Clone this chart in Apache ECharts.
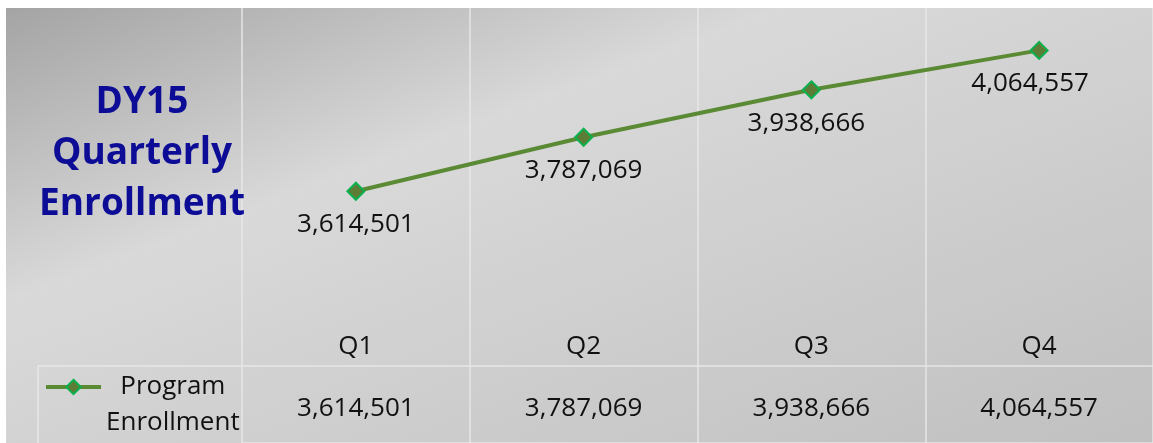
<!DOCTYPE html>
<html>
<head>
<meta charset="utf-8">
<script src="https://cdn.jsdelivr.net/npm/echarts@6/dist/echarts.min.js"></script>
<style>
html,body{margin:0;padding:0;background:#fff;}
#chart{width:1153px;height:443px;}
</style>
</head>
<body>
<div id="chart"></div>
<script>
// ---- data ----
const quarters = ['Q1', 'Q2', 'Q3', 'Q4'];
const enrollment = [3614501, 3787069, 3938666, 4064557];
const seriesName = 'Program Enrollment';
const legendLines = ['Program', 'Enrollment'];
const titleLines = ['DY15', 'Quarterly', 'Enrollment'];
const yMin = 3200000;
const yMax = 4200000;

const fmt = v => v.toLocaleString('en-US');
const FONT = '"Open Sans", sans-serif';
const LINE_COLOR = 'rgba(232,232,232,0.7)';
const gridLine = { show: true, lineStyle: { color: LINE_COLOR, width: 2 } };
const labelShift = [0, 0, -5, -9];

const chart = echarts.init(document.getElementById('chart'), null, { renderer: 'canvas' });
const option = {
  animation: false,
  textStyle: { fontFamily: FONT },
  graphic: [
    {
      type: 'rect', z: -10, silent: true,
      shape: { x: 6, y: 8, width: 1147, height: 435 },
      style: {
        fill: new echarts.graphic.LinearGradient(6, 8, 294, 768, [
          { offset: 0, color: '#a4a4a4' },
          { offset: 0.34, color: '#d9d9d9' },
          { offset: 1, color: '#c0c0c0' }
        ], true)
      }
    },
    { type: 'line', silent: true, z: 5, shape: { x1: 38, y1: 366, x2: 242, y2: 366 }, style: { stroke: LINE_COLOR, lineWidth: 2 } },
    { type: 'line', silent: true, z: 5, shape: { x1: 38, y1: 366, x2: 38, y2: 443 }, style: { stroke: LINE_COLOR, lineWidth: 2 } }
  ],
  title: {
    text: titleLines.join('\n'),
    left: 137, top: 72, textAlign: 'center',
    textStyle: { fontFamily: FONT, fontWeight: 'bold', fontSize: 37, lineHeight: 51, color: '#0c0c96' }
  },
  legend: {
    data: [seriesName],
    left: 44, top: 333, padding: 0,
    itemWidth: 55, itemHeight: 18, itemGap: 10,
    lineStyle: { color: '#5b8a35', width: 4 },
    itemStyle: { color: '#5d7d36', borderColor: '#0ab04e', borderWidth: 2 },
    formatter: () => '\n' + legendLines.map(s => '{a|' + s + '}').join('\n'),
    textStyle: {
      fontFamily: FONT, fontSize: 26, lineHeight: 36, color: '#111',
      rich: { a: { fontFamily: FONT, fontSize: 26, lineHeight: 36, align: 'center', color: '#111' } }
    }
  },
  grid: [
    { left: 242, top: 8, width: 916, bottom: 122 },
    { left: 242, top: 321, width: 916, height: 45 },
    { left: 242, top: 366, width: 916, bottom: 0 }
  ],
  xAxis: [
    {
      gridIndex: 0, type: 'category', data: quarters, boundaryGap: true,
      axisLine: { show: false }, axisTick: { show: false }, axisLabel: { show: false },
      splitLine: gridLine
    },
    {
      gridIndex: 1, type: 'category', data: quarters, boundaryGap: true, position: 'top',
      axisLine: { show: true, lineStyle: gridLine.lineStyle }, axisTick: { show: false },
      axisLabel: { inside: true, margin: 13, fontFamily: FONT, fontSize: 26, color: '#111' },
      splitLine: gridLine
    },
    {
      gridIndex: 2, type: 'category', data: enrollment.map(fmt), boundaryGap: true, position: 'top',
      axisLine: { show: true, lineStyle: gridLine.lineStyle }, axisTick: { show: false },
      axisLabel: { inside: true, margin: 30, fontFamily: FONT, fontSize: 26, color: '#111' },
      splitLine: gridLine
    }
  ],
  yAxis: [
    { gridIndex: 0, type: 'value', min: yMin, max: yMax, show: false, splitLine: { show: false } },
    { gridIndex: 1, type: 'value', show: false },
    { gridIndex: 2, type: 'value', show: false }
  ],
  series: [
    {
      name: seriesName, type: 'line', xAxisIndex: 0, yAxisIndex: 0,
      data: enrollment.map((v, i) => ({ value: v, label: { offset: [labelShift[i], 0] } })),
      symbol: 'diamond', symbolSize: 17, showAllSymbol: true,
      lineStyle: { color: '#5b8a35', width: 4 },
      itemStyle: { color: '#5d7d36', borderColor: '#0ab04e', borderWidth: 2 },
      label: {
        show: true, position: 'bottom', distance: 11,
        formatter: p => fmt(p.value), fontFamily: FONT, fontSize: 26, color: '#111'
      }
    }
  ]
};
chart.setOption(option);
</script>
</body>
</html>
